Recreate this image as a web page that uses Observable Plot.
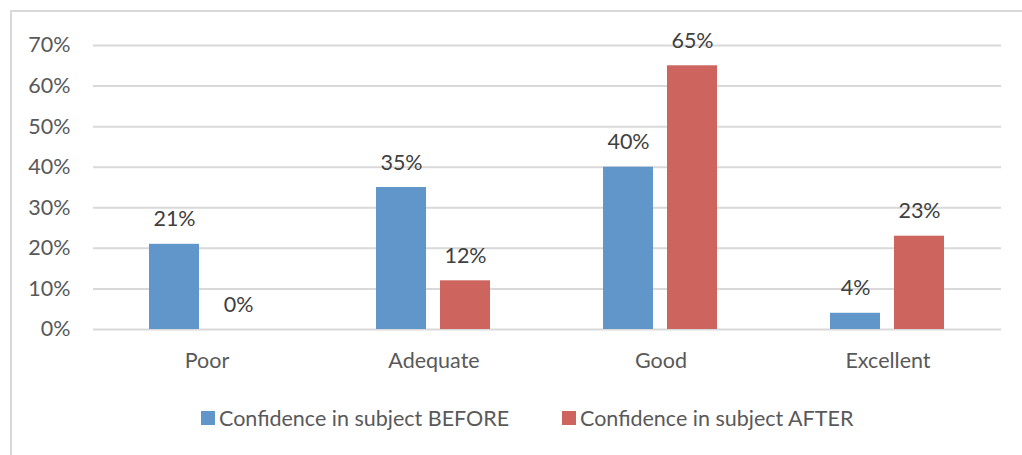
<!DOCTYPE html>
<html>
<head>
<meta charset="utf-8">
<script src="https://cdn.jsdelivr.net/npm/d3@7"></script>
<script src="https://cdn.jsdelivr.net/npm/@observablehq/plot@0.6"></script>
<style>
  html, body { margin: 0; padding: 0; background: #fff; }
  body { width: 1022px; height: 455px; position: relative; overflow: hidden; font-family: Lato, "Open Sans", sans-serif; }
  #frame { position: absolute; left: 10px; top: 10px; width: 1020px; height: 450px; border-left: 2px solid #D9D9D9; border-top: 2px solid #D9D9D9; box-sizing: border-box; }
  #chart { position: absolute; left: 0; top: 0; }
  .leg { position: absolute; top: 405px; display: flex; align-items: center; font-size: 21.5px; color: #595959; white-space: nowrap; }
  .sw { width: 14px; height: 14px; margin-right: 4px; }
</style>
</head>
<body>
<div id="frame"></div>
<div id="chart"></div>
<div class="leg" style="left:201px"><div class="sw" style="background:#6096C9"></div><span>Confidence in subject BEFORE</span></div>
<div class="leg" style="left:562px"><div class="sw" style="background:#CD645D"></div><span>Confidence in subject AFTER</span></div>
<script>
const categories = ["Poor", "Adequate", "Good", "Excellent"];
const seriesNames = ["Confidence in subject BEFORE", "Confidence in subject AFTER"];
const before = [0.21, 0.35, 0.40, 0.04];
const after = [0.00, 0.12, 0.65, 0.23];
const yTicks = [0, 0.1, 0.2, 0.3, 0.4, 0.5, 0.6, 0.7];
const colors = ["#6096C9", "#CD645D"];

const rows = [];
categories.forEach((c, i) => {
  rows.push({category: c, series: seriesNames[0], value: before[i]});
  rows.push({category: c, series: seriesNames[1], value: after[i]});
});

const fmt = v => Math.round(v * 100) + "%";

const chart = Plot.plot({
  width: 1022,
  height: 379,
  marginLeft: 92,
  marginRight: 21,
  marginTop: 45,
  marginBottom: 50,
  style: {fontFamily: "Lato, 'Open Sans', sans-serif", fontSize: "21.5px", color: "#595959", background: "transparent"},
  fx: {domain: categories, padding: 0, label: null},
  x: {domain: seriesNames, paddingInner: 0.215, paddingOuter: 0.854, axis: null},
  y: {domain: [0, 0.7], ticks: yTicks, label: null},
  color: {domain: seriesNames, range: colors},
  marks: [
    Plot.gridY(yTicks, {stroke: "#D9D9D9", strokeOpacity: 1, strokeWidth: 2}),
    Plot.axisY(yTicks, {tickSize: 0, tickPadding: 23, tickFormat: fmt, fontSize: 21.5, fill: "#595959", label: null}),
    Plot.axisFx({anchor: "bottom", tickSize: 0, tickPadding: 23, fontSize: 21.5, fill: "#595959", label: null}),
    Plot.barY(rows, {fx: "category", x: "series", y: "value", fill: "series"}),
    Plot.text(rows, {fx: "category", x: "series", y: "value", text: d => fmt(d.value), lineAnchor: "bottom", dy: -18, fontSize: 21.5, fill: "#404040"})
  ]
});
document.getElementById("chart").appendChild(chart);
</script>
</body>
</html>
